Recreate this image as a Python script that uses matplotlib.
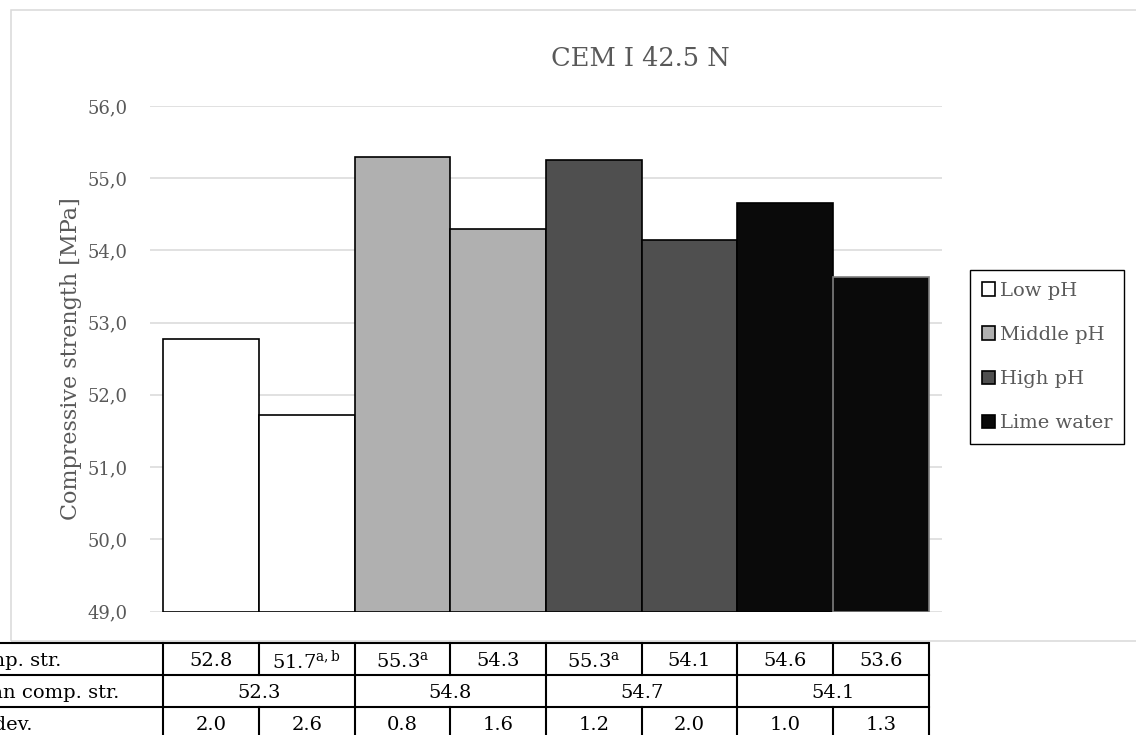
import numpy as np
import matplotlib
matplotlib.use('Agg')
import matplotlib.pyplot as plt
from matplotlib.patches import Patch, Rectangle
from matplotlib.lines import Line2D
from matplotlib.transforms import blended_transform_factory

plt.rcParams['font.family'] = ['DejaVu Serif']
plt.rcParams['mathtext.fontset'] = 'dejavuserif'

# data
bar_values = [52.78, 51.72, 55.30, 54.30, 55.25, 54.14, 54.65, 53.63]
groups = ['Low pH', 'Middle pH', 'High pH', 'Lime water']
group_colors = ['#ffffff', '#b0b0b0', '#4f4f4f', '#0a0a0a']
comp_str = ['52.8', '51.7', '55.3', '54.3', '55.3', '54.1', '54.6', '53.6']
comp_sup = ['', 'a,b', 'a', '', 'a', '', '', '']
mean_str = ['52.3', '54.8', '54.7', '54.1']
std_dev = ['2.0', '2.6', '0.8', '1.6', '1.2', '2.0', '1.0', '1.3']
row_labels = ['Comp. str.', 'Mean comp. str.', 'St. dev.']
y_ticks = [49, 50, 51, 52, 53, 54, 55, 56]

W, H = 1136, 735
grey = '#595959'

fig = plt.figure(figsize=(W / 100, H / 100), dpi=100)

def fx(px):
    return px / W

def fy(py):
    return 1 - py / H

# outer chart frame
fig.add_artist(Rectangle((fx(11), fy(641)), 1.2, fy(10) - fy(641), transform=fig.transFigure,
                         fill=False, edgecolor='#d9d9d9', lw=1.1))

ax = fig.add_axes([fx(150), fy(611.5), fx(792), fy(106) - fy(611.5)])
x = np.arange(len(bar_values))
colors = [c for c in group_colors for _ in range(2)]
edges = ['black'] * 7 + ['#7f7f7f']
ax.bar(x, np.array(bar_values) - 49, width=1.0, bottom=49, color=colors,
       edgecolor=edges, linewidth=1.2, zorder=3)
ax.set_xlim(-0.64, 7.64)
ax.set_ylim(49, 56)
ax.set_yticks(y_ticks, [f'{v:.1f}'.replace('.', ',') for v in y_ticks])
ax.set_xticks([])
ax.tick_params(axis='y', length=0, pad=16, labelsize=13, labelcolor=grey)
ax.grid(axis='y', color='#d9d9d9', lw=1.1, zorder=0)
for s in ax.spines.values():
    s.set_visible(False)
ax.set_ylabel('Compressive strength [MPa]', fontsize=16, color=grey)
ax.yaxis.set_label_coords(fx(82 - 150) / fx(792), 0.5)

fig.text(fx(640), fy(58), 'CEM I 42.5 N', fontsize=18.5, color=grey, ha='center', va='center')

handles = [Patch(facecolor=c, edgecolor='black', lw=1.2) for c in group_colors]
leg = fig.legend(handles, groups, loc='upper left', bbox_to_anchor=(fx(970), fy(270)),
                 fontsize=14, labelcolor=grey, frameon=True, fancybox=False, framealpha=1,
                 edgecolor='black', handlelength=0.7, handleheight=0.7, handletextpad=0.25,
                 labelspacing=1.35, borderpad=0.6, borderaxespad=0)
leg.get_frame().set_linewidth(1.0)

# table below the chart, columns aligned with the bars
tr = blended_transform_factory(ax.transData, fig.transFigure)
row_lines = [643, 675, 707]
row_mid = [661, 693, 725]
lw = 1.5
for py in row_lines:
    fig.add_artist(Line2D([fx(0), fx(927.5)], [fy(py), fy(py)], transform=fig.transFigure,
                          color='black', lw=lw))
# vertical lines
for r, (top, bot) in enumerate(zip(row_lines, row_lines[1:] + [736])):
    xs = np.arange(-0.5, 8.0, 1.0) if r != 1 else np.arange(-0.5, 8.0, 2.0)
    for xv in xs:
        fig.add_artist(Line2D([xv, xv], [fy(top), fy(bot)], transform=tr, color='black', lw=lw))

for i in range(8):
    s = comp_str[i] + (r'$^{\mathrm{' + comp_sup[i] + '}}$' if comp_sup[i] else '')
    fig.text(i, fy(row_mid[0]), s, transform=tr, ha='center', va='center', fontsize=14)
    fig.text(i, fy(row_mid[2]), std_dev[i], transform=tr, ha='center', va='center', fontsize=14)
for g in range(4):
    fig.text(2 * g + 0.5, fy(row_mid[1]), mean_str[g], transform=tr, ha='center', va='center', fontsize=14)
# row labels: the reference cuts these off at the left edge of the picture
for lab, py in zip(row_labels, row_mid):
    fig.text(fx(-40), fy(py), lab, ha='left', va='center', fontsize=14)

fig.savefig('out.png', dpi=100)
